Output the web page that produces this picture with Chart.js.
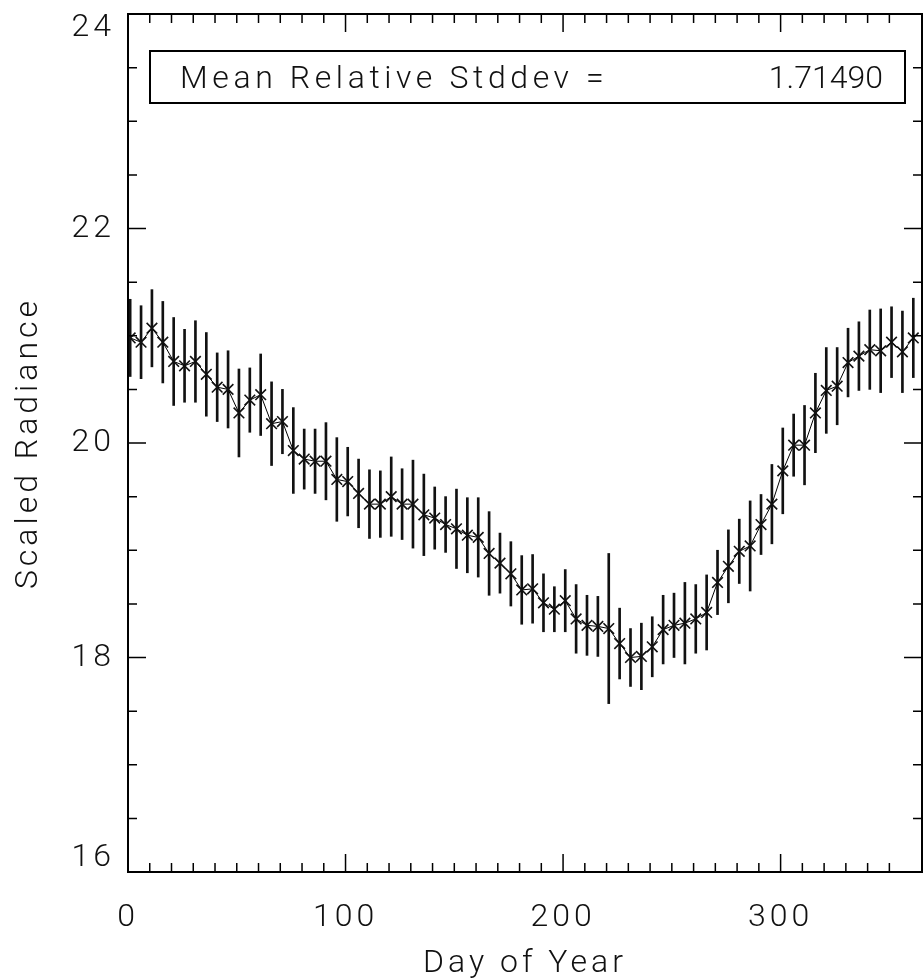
<!DOCTYPE html>
<html>
<head>
<meta charset="utf-8">
<script src="https://cdn.jsdelivr.net/npm/chart.js@4.4.1/dist/chart.umd.min.js"></script>
<style>
    html, body { margin: 0; padding: 0; background: #fff; }
    #wrap { position: relative; width: 923px; height: 980px; }
    #stats {
        position: absolute; left: 149px; top: 50px; width: 757px; height: 54px;
        box-sizing: border-box; border: 2px solid #000;
        font: 300 32px Roboto, sans-serif; color: #111;
        line-height: 50px;
    }
    #stats .lab { position: absolute; left: 29px; top: 0; letter-spacing: 4.6px; }
    #stats .val { position: absolute; right: 21px; top: 0; letter-spacing: 0; }
</style>
</head>
<body>
<div id="wrap">
    <canvas id="radiance_chart" width="923" height="980"></canvas>
    <div id="stats"><span class="lab">Mean Relative Stddev =</span><span class="val">1.71490</span></div>
</div>
<script>
// day of year for each sample
var days = [1, 6, 11, 16, 21, 26, 31, 36, 41, 46, 51, 56, 61, 66, 71, 76, 81, 86,
            91, 96, 101, 106, 111, 116, 121, 126, 131, 136,
            141, 146, 151, 156, 161, 166, 171, 176, 181, 186, 191,
            196, 201, 206, 211, 216, 221, 226, 231, 236, 241, 246,
            251, 256, 261, 266, 271, 276, 281, 286, 291, 296, 301,
            306, 311, 316, 321, 326, 331, 336, 341, 346, 351, 356, 361];

var radiance = [20.98, 20.94, 21.07, 20.94, 20.76, 20.72, 20.76, 20.64, 20.52, 20.50, 20.28, 20.40, 20.45, 20.18, 20.20, 19.93, 19.85, 19.83,
                19.83, 19.66, 19.64, 19.53, 19.43, 19.43, 19.50, 19.43, 19.43, 19.33,
                19.30, 19.24, 19.20, 19.14, 19.12, 18.97, 18.88, 18.78, 18.63, 18.64, 18.51,
                18.45, 18.53, 18.36, 18.30, 18.29, 18.27, 18.13, 18.00, 18.01, 18.10, 18.26,
                18.30, 18.32, 18.36, 18.42, 18.70, 18.85, 18.99, 19.04, 19.24, 19.43, 19.74,
                19.98, 19.98, 20.28, 20.49, 20.53, 20.75, 20.81, 20.87, 20.86, 20.94, 20.85, 20.98];

var stddev = [0.36, 0.34, 0.36, 0.38, 0.41, 0.34, 0.38, 0.39, 0.32, 0.36, 0.41, 0.30, 0.38, 0.39, 0.30, 0.40, 0.28, 0.30,
              0.36, 0.39, 0.32, 0.32, 0.32, 0.31, 0.37, 0.33, 0.41, 0.38,
              0.29, 0.26, 0.37, 0.35, 0.37, 0.39, 0.28, 0.30, 0.32, 0.32, 0.27,
              0.21, 0.29, 0.32, 0.28, 0.28, 0.70, 0.33, 0.27, 0.31, 0.28, 0.32,
              0.30, 0.38, 0.32, 0.35, 0.30, 0.34, 0.30, 0.42, 0.28, 0.37, 0.40,
              0.29, 0.37, 0.37, 0.40, 0.36, 0.32, 0.32, 0.37, 0.39, 0.33, 0.38, 0.37];

var xLabels = [0, 100, 200, 300];
var yLabels = [16, 18, 20, 22, 24];

var tickFont = { family: 'Roboto', size: 32, weight: 300 };

// chart.js has no letter spacing option, set it on the context
var spacing = {
    id: 'spacing',
    beforeLayout: function (chart) { chart.ctx.letterSpacing = '4px'; },
    beforeDraw: function (chart) { chart.ctx.letterSpacing = '4px'; }
};

// IDL style box with inward ticks on all four sides
var axisBox = {
    id: 'axisBox',
    afterDraw: function (chart) {
        var ctx = chart.ctx, a = chart.chartArea, xs = chart.scales.x, ys = chart.scales.y;
        ctx.save();
        ctx.strokeStyle = '#000';
        ctx.lineWidth = 1.5;
        ctx.beginPath();
        xs.ticks.forEach(function (t) {
            var px = xs.getPixelForValue(t.value),
                len = xLabels.indexOf(t.value) >= 0 ? 18 : 9;
            ctx.moveTo(px, a.bottom); ctx.lineTo(px, a.bottom - len);
            ctx.moveTo(px, a.top);    ctx.lineTo(px, a.top + len);
        });
        ys.ticks.forEach(function (t) {
            var py = ys.getPixelForValue(t.value),
                len = yLabels.indexOf(t.value) >= 0 ? 18 : 9;
            ctx.moveTo(a.left, py);  ctx.lineTo(a.left + len, py);
            ctx.moveTo(a.right, py); ctx.lineTo(a.right - len, py);
        });
        ctx.stroke();
        ctx.lineWidth = 2;
        ctx.strokeRect(a.left, a.top, a.right - a.left, a.bottom - a.top);
        ctx.restore();
    }
};

var points = days.map(function (d, i) { return { x: d, y: radiance[i] }; });
var bars   = days.map(function (d, i) { return { x: d, y: [radiance[i] - stddev[i], radiance[i] + stddev[i]] }; });

new Chart(document.getElementById('radiance_chart').getContext('2d'), {
    type: 'line',
    data: {
        datasets: [
            {
                type: 'line',
                data: points,
                borderColor: '#000',
                borderWidth: 1,
                pointStyle: 'crossRot',
                pointRadius: 7.5,
                pointBorderWidth: 1.6,
                pointBorderColor: '#111',
                tension: 0,
                order: 1
            },
            {
                type: 'bar',
                data: bars,
                backgroundColor: '#111',
                borderWidth: 0,
                barThickness: 2,
                order: 2
            }
        ]
    },
    options: {
        responsive: false,
        devicePixelRatio: 1,
        animation: false,
        layout: { autoPadding: false, padding: { top: 14, right: 1, left: 0, bottom: 0 } },
        plugins: { legend: { display: false }, tooltip: { enabled: false } },
        scales: {
            x: {
                type: 'linear',
                min: 0,
                max: 365,
                offset: false,
                grid: { display: false, drawTicks: false },
                border: { display: false },
                ticks: {
                    stepSize: 10,
                    autoSkip: false,
                    maxRotation: 0,
                    padding: 27,
                    color: '#111',
                    font: tickFont,
                    callback: function (v) { return xLabels.indexOf(v) >= 0 ? String(v) : ''; }
                },
                title: {
                    display: true,
                    text: 'Day of Year',
                    color: '#111',
                    font: { family: 'Roboto', size: 32, weight: 300, lineHeight: 1 },
                    padding: { top: 0, bottom: 0 }
                },
                afterFit: function (scale) {
                    scale.height = 108;
                    scale.paddingLeft = 0;
                    scale.paddingRight = 0;
                }
            },
            y: {
                type: 'linear',
                min: 16,
                max: 24,
                grid: { display: false, drawTicks: false },
                border: { display: false },
                ticks: {
                    stepSize: 0.5,
                    autoSkip: false,
                    padding: 13,
                    color: '#111',
                    font: { family: 'Roboto', size: 32, weight: 300, lineHeight: 0.85 },
                    callback: function (v) {
                        if (yLabels.indexOf(v) < 0) return '';
                        if (v === 24) return ['', '24'];
                        if (v === 16) return ['16', ''];
                        return String(v);
                    }
                },
                title: {
                    display: true,
                    text: 'Scaled Radiance',
                    color: '#111',
                    font: { family: 'Roboto', size: 32, weight: 300, lineHeight: 1 },
                    padding: { top: 13, bottom: 0 }
                },
                afterFit: function (scale) {
                    scale.width = 128;
                    scale.paddingTop = 0;
                    scale.paddingBottom = 0;
                }
            }
        }
    },
    plugins: [spacing, axisBox]
});
</script>
</body>
</html>
